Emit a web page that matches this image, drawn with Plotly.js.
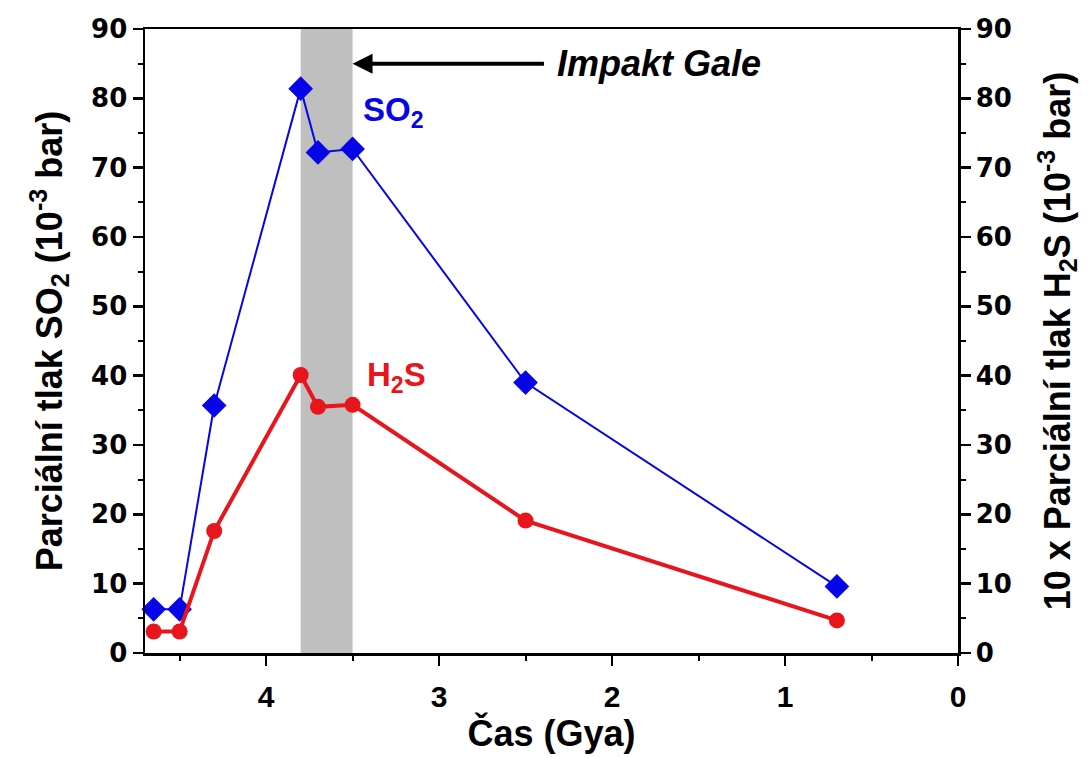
<!DOCTYPE html>
<html>
<head>
<meta charset="utf-8">
<script src="https://cdn.plot.ly/plotly-3.0.1.min.js"></script>
<style>
  html, body { margin: 0; padding: 0; background: #fff; }
  #chart { width: 1092px; height: 758px; }
</style>
</head>
<body>
<div id="chart"></div>
<script>
// Time before present (Gya)
const timeGya = [4.65, 4.5, 4.3, 3.8, 3.7, 3.5, 2.5, 0.7];
// SO2 partial pressure (10^-3 bar)
const so2 = [6.3, 6.3, 35.7, 81.4, 72.2, 72.7, 39.0, 9.6];
// 10 x H2S partial pressure (10^-3 bar)
const h2s = [3.1, 3.1, 17.6, 40.1, 35.5, 35.8, 19.1, 4.7];
// Gale impact window (Gya)
const impactWindow = [3.8, 3.5];

const blue = '#0505e8';
const red = '#e8161c';
const fontFam = '"Liberation Sans", Arial, sans-serif';
const wideFam = '"DejaVu Sans", Verdana, sans-serif';

const traces = [
  {
    x: timeGya, y: so2, name: 'SO2', yaxis: 'y',
    mode: 'lines+markers',
    line: { color: blue, width: 2 },
    marker: { symbol: 'diamond', size: 19, color: blue },
    cliponaxis: false
  },
  {
    x: timeGya, y: h2s, name: 'H2S', yaxis: 'y2',
    mode: 'lines+markers',
    line: { color: red, width: 4 },
    marker: { symbol: 'circle', size: 16, color: red },
    cliponaxis: false
  }
];

const xTickFont = { family: fontFam, size: 30, weight: 'bold', color: '#000' };
const yTickFont = { family: wideFam, size: 26, weight: 'bold', color: '#000' };
const titleFont = { family: fontFam, size: 36, weight: 'bold', color: '#000' };

const yCommon = {
  range: [0, 90], dtick: 10, tick0: 0,
  showgrid: false, zeroline: false,
  showline: true, linecolor: '#000', linewidth: 2.5,
  ticks: 'outside', ticklen: 10, tickwidth: 2.5, tickcolor: '#000',
  minor: { dtick: 5, ticks: 'outside', ticklen: 5, tickwidth: 2, tickcolor: '#000', showgrid: false },
  tickfont: yTickFont
};

const layout = {
  width: 1092, height: 758,
  margin: { l: 145, r: 134, t: 29, b: 105 },
  paper_bgcolor: '#fff', plot_bgcolor: '#fff',
  showlegend: false,
  xaxis: {
    range: [4.7, 0], dtick: 1, tick0: 0,
    showgrid: false, zeroline: false,
    showline: true, mirror: true, linecolor: '#000', linewidth: 2.5,
    ticks: 'outside', ticklen: 10, tickwidth: 2.5, tickcolor: '#000',
    ticklabelstandoff: 5,
    minor: { dtick: 0.5, ticks: 'outside', ticklen: 5, tickwidth: 2, tickcolor: '#000', showgrid: false },
    tickfont: xTickFont,
    title: { text: 'Čas (Gya)', font: titleFont, standoff: 4 }
  },
  yaxis: Object.assign({}, yCommon, {
    title: { text: 'Parciální tlak SO<sub>2</sub> (10<sup>-3</sup> bar)', font: titleFont, standoff: 18 }
  }),
  yaxis2: Object.assign({}, yCommon, {
    overlaying: 'y', side: 'right',
    title: { text: '10 x Parciální tlak H<sub>2</sub>S (10<sup>-3</sup> bar)', font: titleFont, standoff: 34 }
  }),
  shapes: [
    {
      type: 'rect', xref: 'x', yref: 'paper',
      x0: impactWindow[0], x1: impactWindow[1], y0: 0, y1: 1,
      fillcolor: '#bfbfbf', line: { width: 0 }, layer: 'below'
    }
  ],
  annotations: [
    {
      x: impactWindow[1], y: 85, xref: 'x', yref: 'y',
      ax: 2.385, ay: 85, axref: 'x', ayref: 'y',
      text: '', showarrow: true, arrowhead: 2, arrowsize: 1, arrowwidth: 4, arrowcolor: '#000'
    },
    {
      x: 2.33, y: 85, xref: 'x', yref: 'y', xanchor: 'left', yanchor: 'middle',
      text: '<i>Impakt Gale</i>', showarrow: false,
      font: { family: fontFam, size: 36, weight: 'bold', color: '#000' }
    },
    {
      x: 3.45, y: 78, xref: 'x', yref: 'y', xanchor: 'left', yanchor: 'middle',
      text: 'SO<sub>2</sub>', showarrow: false,
      font: { family: fontFam, size: 33, weight: 'bold', color: blue }
    },
    {
      x: 3.43, y: 39.8, xref: 'x', yref: 'y', xanchor: 'left', yanchor: 'middle',
      text: 'H<sub>2</sub>S', showarrow: false,
      font: { family: fontFam, size: 33, weight: 'bold', color: red }
    }
  ]
};

Plotly.newPlot('chart', traces, layout, { displayModeBar: false, staticPlot: true });
</script>
</body>
</html>
